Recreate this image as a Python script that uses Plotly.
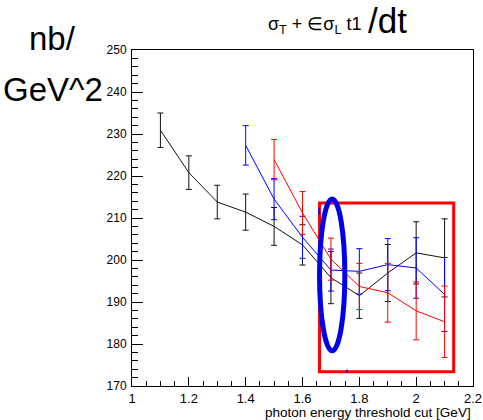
import plotly.graph_objects as go

# ---- data ----
x_black = [1.1, 1.2, 1.3, 1.4, 1.5, 1.6, 1.7, 1.8, 1.9, 2.0, 2.1]
y_black = [230.9, 220.8, 213.8, 211.4, 208.0, 203.6, 195.8, 191.5, 196.9, 201.7, 200.5]
e_black = [4.1, 4.0, 4.0, 4.3, 4.5, 4.8, 6.2, 5.4, 6.8, 7.4, 9.3]

x_blue = [1.4, 1.5, 1.6, 1.7, 1.8, 1.9, 2.0, 2.1]
y_blue = [227.3, 214.5, 205.4, 197.6, 197.3, 198.9, 198.1, 191.8]
e_blue = [4.7, 4.9, 5.0, 5.0, 5.4, 6.2, 7.2, 8.8]

x_red = [1.5, 1.6, 1.7, 1.8, 1.9, 2.0, 2.1]
y_red = [223.9, 211.2, 200.2, 193.7, 192.2, 187.9, 185.3]
e_red = [4.8, 5.1, 5.0, 5.5, 7.0, 6.9, 8.5]

x_range = [1.0, 2.2]
y_range = [170, 250]

title_small = "σ<sub>T</sub> + ∈σ<sub>L</sub> t1"
title_big = "/dt"
y_title_lines = ["nb/", "GeV^2"]
x_title = "photon energy threshold cut [GeV]"

FONT = "Liberation Sans, Arial, Helvetica, sans-serif"
W, H = 483, 420
ML, MR, MT, MB = 132, 10, 50, 34
PW, PH = W - ML - MR, H - MT - MB


def px(xp):
    return (xp - ML) / PW


def py(yp):
    return (H - MB - yp) / PH


fig = go.Figure()

for xs, ys, es, col in [
    (x_black, y_black, e_black, "#111111"),
    (x_blue, y_blue, e_blue, "#0000ff"),
    (x_red, y_red, e_red, "#ff0000"),
]:
    fig.add_trace(go.Scatter(
        x=xs, y=ys, mode="lines",
        line=dict(color=col, width=1),
        error_y=dict(type="data", array=es, visible=True,
                     color=col, thickness=1, width=3),
        showlegend=False, hoverinfo="skip",
    ))

# annotations drawn on the chart (red box, blue ellipse)
fig.add_shape(type="rect", xref="x", yref="y",
              x0=1.660, x1=2.132, y0=173.4, y1=213.6,
              line=dict(color="#ff0000", width=3))
fig.add_shape(type="circle", xref="x", yref="y",
              x0=1.660, x1=1.749, y0=178.4, y1=214.5,
              line=dict(color="#0000ee", width=5))
fig.add_shape(type="line", xref="x", yref="y",
              x0=1.658, x1=1.658, y0=212.4, y1=210.8,
              line=dict(color="#0000ff", width=1.5))
fig.add_shape(type="line", xref="x", yref="y",
              x0=1.757, x1=1.757, y0=173.9, y1=173.1,
              line=dict(color="#0000ff", width=1.5))

axis_common = dict(
    showgrid=False, zeroline=False, automargin=False,
    showline=True, linecolor="#000000", linewidth=1, mirror=True,
    ticks="inside", tickcolor="#000000",
    tickfont=dict(family=FONT, size=13, color="#000000"),
)

fig.update_layout(
    width=W, height=H,
    margin=dict(l=ML, r=MR, t=MT, b=MB, autoexpand=False),
    paper_bgcolor="white", plot_bgcolor="white",
    xaxis=dict(range=x_range, dtick=0.2, tick0=1.0, ticklen=9,
               minor=dict(dtick=0.05, ticklen=5, ticks="inside", tickcolor="#000000"),
               **axis_common),
    yaxis=dict(range=y_range, dtick=10, tick0=170, ticklen=11,
               minor=dict(dtick=2, ticklen=6, ticks="inside", tickcolor="#000000"),
               **axis_common),
)
fig.update_yaxes(tickfont=dict(size=12), ticklabelstandoff=2)
fig.update_xaxes(ticklabelstandoff=0)

ann = []
ann.append(dict(text=title_small, x=px(363), y=py(25), xref="paper", yref="paper",
                xanchor="right", yanchor="middle", showarrow=False,
                font=dict(family=FONT, size=18, color="#000000")))
ann.append(dict(text=title_big, x=px(366), y=py(20), xref="paper", yref="paper",
                xanchor="left", yanchor="middle", showarrow=False,
                font=dict(family=FONT, size=35, color="#000000")))
ann.append(dict(text=y_title_lines[0], x=px(52), y=py(39), xref="paper", yref="paper",
                xanchor="center", yanchor="middle", showarrow=False,
                font=dict(family=FONT, size=33, color="#000000")))
ann.append(dict(text=y_title_lines[1], x=px(53), y=py(89), xref="paper", yref="paper",
                xanchor="center", yanchor="middle", showarrow=False,
                font=dict(family=FONT, size=33, color="#000000")))
ann.append(dict(text=x_title, x=px(473), y=py(412), xref="paper", yref="paper",
                xanchor="right", yanchor="middle", showarrow=False,
                font=dict(family=FONT, size=13.5, color="#000000")))
fig.update_layout(annotations=ann)

fig.write_html("out.html")
